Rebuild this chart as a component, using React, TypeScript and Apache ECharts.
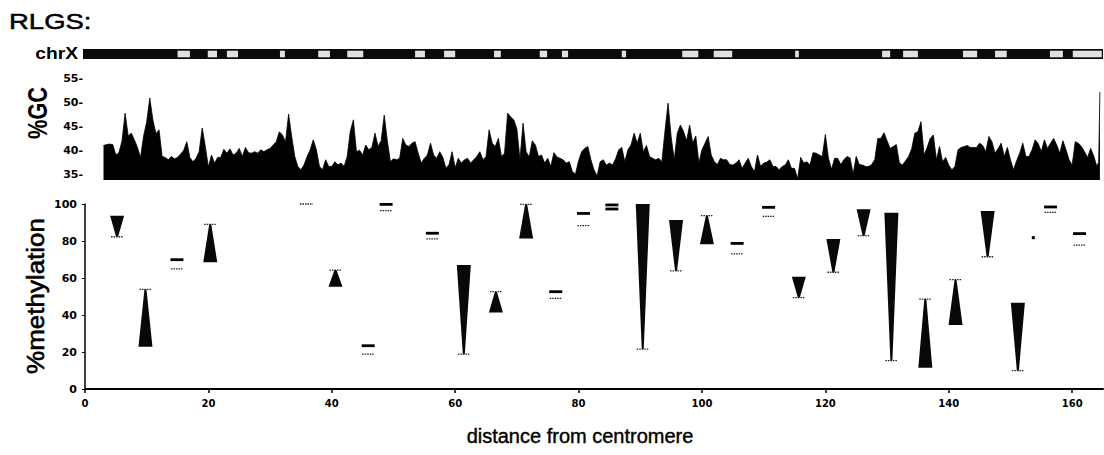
import React, { useEffect, useRef } from "react";
import * as echarts from "echarts";

// ---------- data ----------
const X_MIN = 0;
const X_MAX = 165;
const X_INTERVAL = 20;
const methTicks = { min: 0, max: 100, interval: 20 };
const gcTicks = { min: 33.75, max: 56.25, interval: 1.25, labelEvery: 5 };

// chromosome band (Mb) and light bands
const chrBand: [number, number][] = [[0, 165]];
const chrPatches: [number, number][] = [
  [15.0, 17.0], [19.9, 21.4], [23.0, 24.8], [31.6, 32.4], [37.8, 39.7], [42.5, 45.1],
  [53.5, 55.1], [58.2, 60.0], [66.3, 67.4], [73.7, 74.9], [77.3, 78.3], [87.0, 87.7],
  [96.8, 99.4], [101.9, 104.9], [115.1, 115.7], [129.2, 130.5], [132.6, 135.0],
  [142.3, 144.6], [147.5, 149.4], [156.4, 158.5], [160.1, 164.8],
];

// %GC profile [position, %GC]
const gcData: [number, number][] = [
  [3.0,41.0],[3.5,41.2],[4.0,41.3],[4.5,41.2],[5.0,39.0],[5.5,39.5],[6.0,42.0],[6.5,47.8],[7.0,43.0],[7.5,43.6],[8.0,42.2],[8.5,40.6],[9.0,38.5],[9.5,43.0],[10.0,46.0],[10.5,51.0],[11.0,46.4],[11.5,43.5],[12.0,44.3],[12.5,38.7],[13.0,38.5],[13.5,38.0],[14.0,38.7],[14.5,38.2],[15.0,38.5],[15.5,39.2],[16.0,40.0],[16.5,41.8],[17.0,38.5],[17.5,37.6],[18.0,38.3],[18.5,39.7],[19.0,44.7],[19.5,40.8],[20.0,36.5],[20.5,39.0],[21.0,37.3],[21.5,38.5],[22.0,38.5],[22.5,40.2],[23.0,39.4],[23.5,40.3],[24.0,39.0],[24.5,39.4],[25.0,40.4],[25.5,38.7],[26.0,40.6],[26.5,39.5],[27.0,39.4],[27.5,39.7],[28.0,39.4],[28.5,40.1],[29.0,39.7],[29.5,40.1],[30.0,40.4],[30.5,41.1],[31.0,41.8],[31.5,43.9],[32.0,43.2],[32.5,41.8],[33.0,47.6],[33.5,42.9],[34.0,38.7],[34.5,36.6],[35.0,35.9],[35.5,36.9],[36.0,38.7],[36.5,40.1],[37.0,42.2],[37.5,40.1],[38.0,36.6],[38.5,35.9],[39.0,38.0],[39.5,36.6],[40.0,36.6],[40.5,37.6],[41.0,36.9],[41.5,37.3],[42.0,36.6],
  [42.5,38.7],[43.0,44.0],[43.5,46.4],[44.0,39.7],[44.5,40.0],[45.0,39.0],[45.5,41.1],[46.0,40.1],[46.5,40.6],[47.0,43.6],[47.5,40.8],[48.0,42.0],[48.5,47.4],[49.0,42.0],[49.5,37.6],[50.0,38.2],[50.5,38.0],[51.0,38.3],[51.5,42.5],[52.0,41.1],[52.5,40.8],[53.0,41.5],[53.5,41.8],[54.0,39.4],[54.5,37.3],[55.0,38.3],[55.5,39.0],[56.0,41.5],[56.5,39.0],[57.0,38.3],[57.5,39.7],[58.0,38.5],[58.5,36.2],[59.0,37.0],[59.5,39.7],[60.0,36.3],[60.5,38.3],[61.0,37.3],[61.5,38.0],[62.0,38.3],[62.5,37.3],[63.0,38.0],[63.5,38.7],[64.0,39.7],[64.5,38.0],[65.0,38.7],[65.5,44.3],[66.0,41.5],[66.5,40.8],[67.0,42.5],[67.5,38.7],[68.0,39.4],[68.5,47.8],[69.0,47.0],[69.5,46.4],[70.0,44.5],[70.5,38.0],[71.0,45.7],[71.5,39.7],[72.0,38.6],[72.5,42.0],[73.0,41.1],[73.5,38.7],[74.0,39.0],[74.5,37.3],[75.0,38.3],[75.5,36.6],[76.0,39.5],[76.5,38.6],[77.0,38.3],[77.5,38.0],[78.0,37.3],[78.5,37.6],[79.0,35.5],[79.5,35.0],[80.0,37.8],[80.5,39.7],[81.0,40.4],[81.5,40.8],[82.0,38.0],[82.5,35.9],[83.0,34.6],
  [83.5,37.6],[84.0,38.0],[84.5,36.9],[85.0,37.3],[85.5,36.9],[86.0,38.2],[86.5,40.1],[87.0,40.6],[87.5,37.6],[88.0,40.1],[88.5,41.1],[89.0,43.6],[89.5,41.5],[90.0,43.6],[90.5,39.7],[91.0,41.0],[91.5,38.7],[92.0,38.3],[92.5,38.0],[93.0,38.3],[93.5,37.6],[94.0,44.0],[94.5,49.9],[95.0,42.9],[95.5,38.0],[96.0,43.6],[96.5,45.3],[97.0,44.0],[97.5,42.0],[98.0,45.3],[98.5,41.5],[99.0,43.0],[99.5,37.3],[100.0,40.1],[100.5,41.5],[101.0,42.9],[101.5,39.0],[102.0,37.6],[102.5,37.0],[103.0,38.3],[103.5,38.0],[104.0,38.0],[104.5,37.0],[105.0,36.9],[105.5,37.3],[106.0,38.0],[106.5,36.2],[107.0,37.3],[107.5,38.3],[108.0,36.6],[108.5,35.5],[109.0,39.0],[109.5,36.6],[110.0,37.3],[110.5,37.5],[111.0,38.0],[111.5,36.6],[112.0,36.6],[112.5,35.9],[113.0,36.6],[113.5,36.9],[114.0,38.0],[114.5,36.2],[115.0,36.2],[115.5,34.0],[116.0,38.5],[116.5,37.3],[117.0,37.6],[117.5,36.9],[118.0,39.5],[118.5,39.4],[119.0,39.0],[119.5,38.7],[120.0,43.3],[120.5,38.3],[121.0,36.0],[121.5,38.3],[122.0,38.3],[122.5,37.0],[123.0,38.0],[123.5,38.7],
  [124.0,38.4],[124.5,35.0],[125.0,38.7],[125.5,37.0],[126.0,36.9],[126.5,36.6],[127.0,36.6],[127.5,37.0],[128.0,38.0],[128.5,42.5],[129.0,42.5],[129.5,43.7],[130.0,42.0],[130.5,40.4],[131.0,40.8],[131.5,41.2],[132.0,37.3],[132.5,36.9],[133.0,37.8],[133.5,38.7],[134.0,40.4],[134.5,43.6],[135.0,43.9],[135.5,46.0],[136.0,39.0],[136.5,40.6],[137.0,42.5],[137.5,43.2],[138.0,38.0],[138.5,40.8],[139.0,37.6],[139.5,38.5],[140.0,36.9],[140.5,35.9],[141.0,36.6],[141.5,40.1],[142.0,40.6],[142.5,40.8],[143.0,41.0],[143.5,40.6],[144.0,40.6],[144.5,40.6],[145.0,41.5],[145.5,41.0],[146.0,39.7],[146.5,42.9],[147.0,41.8],[147.5,39.4],[148.0,40.4],[148.5,41.5],[149.0,38.7],[149.5,40.6],[150.0,38.0],[150.5,35.9],[151.0,37.8],[151.5,39.4],[152.0,41.5],[152.5,38.7],[153.0,38.7],[153.5,40.1],[154.0,42.2],[154.5,41.4],[155.0,39.7],[155.5,42.2],[156.0,40.4],[156.5,41.5],[157.0,42.5],[157.5,41.1],[158.0,39.4],[158.5,42.0],[159.0,40.1],[159.5,38.0],[160.0,36.9],[160.5,41.8],[161.0,41.5],[161.5,40.8],[162.0,39.7],[162.5,38.5],[163.0,40.4],[163.5,38.8],[164.0,36.6],[164.3,37.5],[164.5,52.3],
];

// %methylation markers: position, value at wide end / upper line, value at apex / lower line
const methPos = [5.2, 9.8, 14.9, 20.3, 35.9, 40.6, 45.9, 48.8, 56.3, 61.4, 66.6, 71.5, 76.3, 80.8, 85.4, 90.4, 95.8, 100.8, 105.7, 110.8, 115.7, 121.3, 126.2, 130.7, 136.2, 141.1, 146.3, 151.2, 153.7, 156.5, 161.2];
const methFrom = [93.7, 22.9, 69.9, 68.5, 100, 55.3, 23.4, 99.8, 84.2, 67.0, 41.3, 81.4, 52.6, 94.9, 97.3, 100, 91.4, 78.2, 78.7, 98.2, 60.7, 81.1, 97.1, 95.3, 11.5, 34.6, 96.2, 46.6, 81.8, 98.4, 84.0];
const methTo = [82.3, 53.9, 64.9, 89.0, 100, 64.3, 18.8, 96.4, 81.1, 18.8, 52.6, 99.8, 49.0, 88.3, 99.5, 21.6, 63.8, 93.7, 73.0, 93.3, 49.4, 63.1, 82.9, 15.3, 48.6, 59.1, 71.5, 9.9, 81.8, 95.5, 77.8];
const methKind = ["tri", "tri", "eq", "tri", "line", "tri", "eq", "eq", "eq", "tri", "tri", "tri", "eq", "eq", "eq2", "tri", "tri", "tri", "eq", "eq", "tri", "tri", "tri", "tri", "tri", "tri", "tri", "tri", "dot", "eq", "eq"];

// ---------- chart ----------
const FONT = '"Liberation Sans", Arial, sans-serif';
const TICKFONT = '"DejaVu Sans", sans-serif';

export default function App() {
  const ref = useRef<HTMLDivElement>(null);
  useEffect(() => {
    if (!ref.current) return;
    const chart = echarts.init(ref.current, null, { renderer: "svg" });
    const gridL = 85;
    const gridR = 1;
    const option: any = {
      animation: false,
      backgroundColor: "#fff",
      grid: [
        { left: gridL, right: gridR, top: 49, height: 10 },
        { left: gridL, right: gridR, top: 73, height: 107 },
        { left: gridL, right: gridR, top: 204, height: 185 },
      ],
      xAxis: [
        { gridIndex: 0, type: "value", min: X_MIN, max: X_MAX, show: false },
        { gridIndex: 1, type: "value", min: X_MIN, max: X_MAX, show: false },
        {
          gridIndex: 2, type: "value", min: X_MIN, max: X_MAX, interval: X_INTERVAL,
          axisLine: { lineStyle: { color: "#000", width: 2 } },
          axisTick: { length: 4, lineStyle: { color: "#000", width: 1.5 } },
          axisLabel: { color: "#000", fontFamily: TICKFONT, fontWeight: "bold", fontSize: 10, margin: 9, showMaxLabel: false },
          splitLine: { show: false },
        },
      ],
      yAxis: [
        { gridIndex: 0, type: "value", min: 0, max: 1, show: false },
        {
          gridIndex: 1, type: "value", min: gcTicks.min, max: gcTicks.max, interval: gcTicks.interval,
          axisLine: { show: false }, axisTick: { show: false }, splitLine: { show: false },
          axisLabel: {
            color: "#000", fontFamily: TICKFONT, fontWeight: "bold", fontSize: 11, margin: 2,
            formatter: (v: number) => {
              const r = Math.round(v / gcTicks.labelEvery) * gcTicks.labelEvery;
              return Math.abs(v - r) < 0.01 ? r + "-" : "";
            },
          },
        },
        {
          gridIndex: 2, type: "value", min: methTicks.min, max: methTicks.max, interval: methTicks.interval,
          axisLine: { show: true, lineStyle: { color: "#000", width: 1.5 } },
          axisTick: { show: true, length: 3, lineStyle: { color: "#000" } },
          axisLabel: { color: "#000", fontFamily: TICKFONT, fontWeight: "bold", fontSize: 11, margin: 8 },
          splitLine: { show: false },
        },
      ],
      series: [
        {
          type: "custom", xAxisIndex: 0, yAxisIndex: 0, silent: true,
          data: chrBand,
          renderItem: (params: any, api: any) => {
            const a = api.coord([api.value(0), 0]);
            const b = api.coord([api.value(1), 1]);
            return { type: "rect", shape: { x: a[0] - 2, y: b[1], width: b[0] - a[0] + 2, height: a[1] - b[1] }, style: { fill: "#0a0a0a" } };
          },
        },
        {
          type: "custom", xAxisIndex: 0, yAxisIndex: 0, silent: true,
          data: chrPatches,
          renderItem: (params: any, api: any) => {
            const a = api.coord([api.value(0), 0.17]);
            const b = api.coord([api.value(1), 0.83]);
            return { type: "rect", shape: { x: a[0], y: b[1], width: b[0] - a[0], height: a[1] - b[1] }, style: { fill: "#e0e0e0" } };
          },
        },
        {
          type: "line", xAxisIndex: 1, yAxisIndex: 1, data: gcData, showSymbol: false, symbol: "none",
          lineStyle: { color: "#000", width: 0.8 },
          areaStyle: { color: "#000", opacity: 1, origin: "start" },
          silent: true,
        },
        {
          type: "custom", xAxisIndex: 2, yAxisIndex: 2, silent: true,
          data: methPos.map((p, i) => [p, methFrom[i], methTo[i]]),
          renderItem: (params: any, api: any) => {
            const kind = methKind[params.dataIndex];
            const p1 = api.coord([api.value(0), api.value(1)]);
            const p2 = api.coord([api.value(0), api.value(2)]);
            const x = p1[0];
            const y1 = p1[1];
            const y2 = p2[1];
            const thick = (y: number) => ({ type: "rect", shape: { x: x - 6.5, y: y - 1.4, width: 13, height: 2.8 }, style: { fill: "#000" } });
            const thin = (y: number, hw: number) => ({
              type: "line", shape: { x1: x - hw, y1: y, x2: x + hw, y2: y },
              style: { stroke: "#222", lineWidth: 1.3, lineDash: [1.5, 1] },
            });
            if (kind === "tri") {
              return {
                type: "group",
                children: [
                  { type: "polygon", shape: { points: [[x - 7, y1], [x + 7, y1], [x + 1, y2], [x - 1, y2]] }, style: { fill: "#080808" } },
                  thin(y2, 6),
                ],
              };
            }
            if (kind === "eq") return { type: "group", children: [thick(y1), thin(y2, 6)] };
            if (kind === "eq2") return { type: "group", children: [thick(y1), thick(y2)] };
            if (kind === "line") return { type: "group", children: [thin(y1, 6.5)] };
            return { type: "rect", shape: { x: x - 1.5, y: y1 - 1.5, width: 3, height: 3 }, style: { fill: "#000" } };
          },
        },
      ],
      graphic: [
        { type: "text", x: 9, y: 21, scaleX: 1.25, style: { text: "RLGS:", fill: "#000", stroke: "#000", lineWidth: 0.5, font: `22px ${FONT}`, textAlign: "left", textVerticalAlign: "middle" } },
        { type: "text", x: 78, y: 54, scaleX: 1.2, style: { text: "chrX", fill: "#000", font: `bold 16px ${FONT}`, textAlign: "right", textVerticalAlign: "middle" } },
        { type: "text", x: 38, y: 113, rotation: Math.PI / 2, scaleX: 0.81, style: { text: "%GC", fill: "#000", font: `bold 27px ${FONT}`, textAlign: "center", textVerticalAlign: "middle" } },
        { type: "text", x: 36, y: 296, rotation: Math.PI / 2, scaleX: 1.13, style: { text: "%methylation", fill: "#000", stroke: "#000", lineWidth: 0.6, font: `23px ${FONT}`, textAlign: "center", textVerticalAlign: "middle" } },
        { type: "text", x: 580, y: 436, style: { text: "distance from centromere", fill: "#000", stroke: "#000", lineWidth: 0.4, font: `20px ${FONT}`, textAlign: "center", textVerticalAlign: "middle" } },
      ],
    };
    chart.setOption(option);
    return () => chart.dispose();
  }, []);
  return <div ref={ref} style={{ position: "absolute", left: 0, top: 0, width: 1104, height: 455 }} />;
}
